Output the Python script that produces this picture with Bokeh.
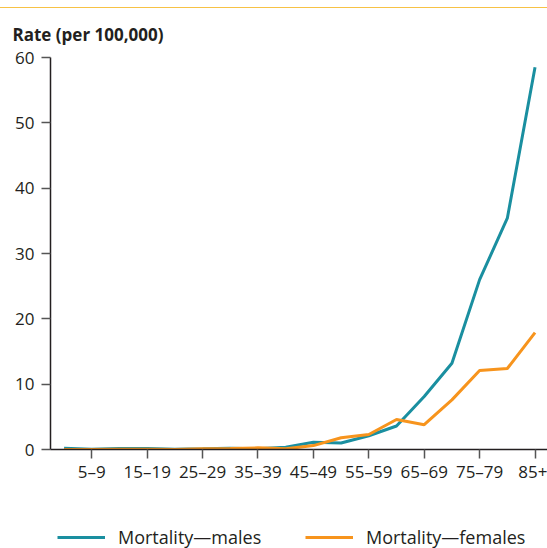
from bokeh.plotting import figure
from bokeh.layouts import column
from bokeh.models import Range1d, FixedTicker, Legend, LegendItem
from bokeh.embed import file_html
from bokeh.resources import INLINE

age_groups = ["0–4", "5–9", "10–14", "15–19", "20–24", "25–29", "30–34", "35–39",
              "40–44", "45–49", "50–54", "55–59", "60–64", "65–69", "70–74",
              "75–79", "80–84", "85+"]
males = [0.2, 0.05, 0.15, 0.15, 0.05, 0.1, 0.2, 0.1, 0.35, 1.1, 1.0, 2.1,
         3.6, 8.1, 13.2, 26.0, 35.4, 58.5]
females = [0.0, 0.0, 0.05, 0.05, 0.0, 0.1, 0.15, 0.25, 0.1, 0.6, 1.8, 2.3,
           4.6, 3.8, 7.6, 12.1, 12.4, 17.9]
y_ticks = [0, 10, 20, 30, 40, 50, 60]
series_labels = ["Mortality—males", "Mortality—females"]

FONT = "Open Sans"
TXT = "#231f20"
TEAL = "#1a8fa0"
ORANGE = "#f7941d"

xs = list(range(len(age_groups)))

# ---- main chart ----
p = figure(frame_width=497, frame_height=392,
           min_border_left=50, min_border_right=0, min_border_top=49,
           min_border_bottom=74,
           x_range=Range1d(-0.49, 17.45), y_range=Range1d(0, 60),
           output_backend="svg", toolbar_location=None,
           title="Rate (per 100,000)")

p.title.align = "left"
p.title.offset = -38
p.title.text_font = FONT
p.title.text_font_size = "17px"
p.title.text_font_style = "bold"
p.title.text_color = TXT
p.title.standoff = 24

p.xgrid.visible = False
p.ygrid.visible = False
p.outline_line_color = None
p.background_fill_color = "white"
p.border_fill_color = "white"

p.xaxis.ticker = FixedTicker(ticks=xs[1::2])
p.xaxis.major_label_overrides = {i: age_groups[i] for i in xs}
p.yaxis.ticker = FixedTicker(ticks=y_ticks)

for ax in (p.xaxis[0], p.yaxis[0]):
    ax.axis_line_color = TXT
    ax.axis_line_width = 1.5
    ax.major_tick_line_color = "#555555"
    ax.major_tick_line_width = 1.5
    ax.major_tick_in = 0
    ax.major_tick_out = 9
    ax.minor_tick_line_color = None
    ax.major_label_text_font = FONT
    ax.major_label_text_font_size = "17px"
    ax.major_label_text_color = TXT
p.xaxis.major_label_standoff = 1
p.yaxis.major_label_standoff = 7

p.line(xs, males, line_color=TEAL, line_width=3)
p.line(xs, females, line_color=ORANGE, line_width=3)

# ---- legend strip ----
p2 = figure(width=547, height=26, min_border=0,
            x_range=Range1d(-0.49, 17.45), y_range=Range1d(1000, 1001),
            x_axis_type=None, y_axis_type=None,
            output_backend="svg", toolbar_location=None)
p2.xgrid.visible = False
p2.ygrid.visible = False
p2.outline_line_color = None
p2.background_fill_color = "white"
p2.border_fill_color = "white"

l_m = p2.line(xs, males, line_color=TEAL, line_width=3)
l_f = p2.line(xs, females, line_color=ORANGE, line_width=3)

legend = Legend(items=[LegendItem(label=series_labels[0], renderers=[l_m]),
                       LegendItem(label=series_labels[1], renderers=[l_f])],
                orientation="horizontal", location=(7, 0),
                glyph_width=48, glyph_height=20, label_standoff=13,
                label_width=175, spacing=12, padding=0, margin=0,
                border_line_color=None, background_fill_alpha=0,
                label_text_font=FONT, label_text_font_size="18px",
                label_text_color=TXT)
p2.add_layout(legend, "center")

layout = column(p, p2, spacing=0)
layout.styles = {"border-top": "1px solid #f7c245", "margin-top": "7px"}

open("out.html", "w").write(file_html(layout, INLINE))
